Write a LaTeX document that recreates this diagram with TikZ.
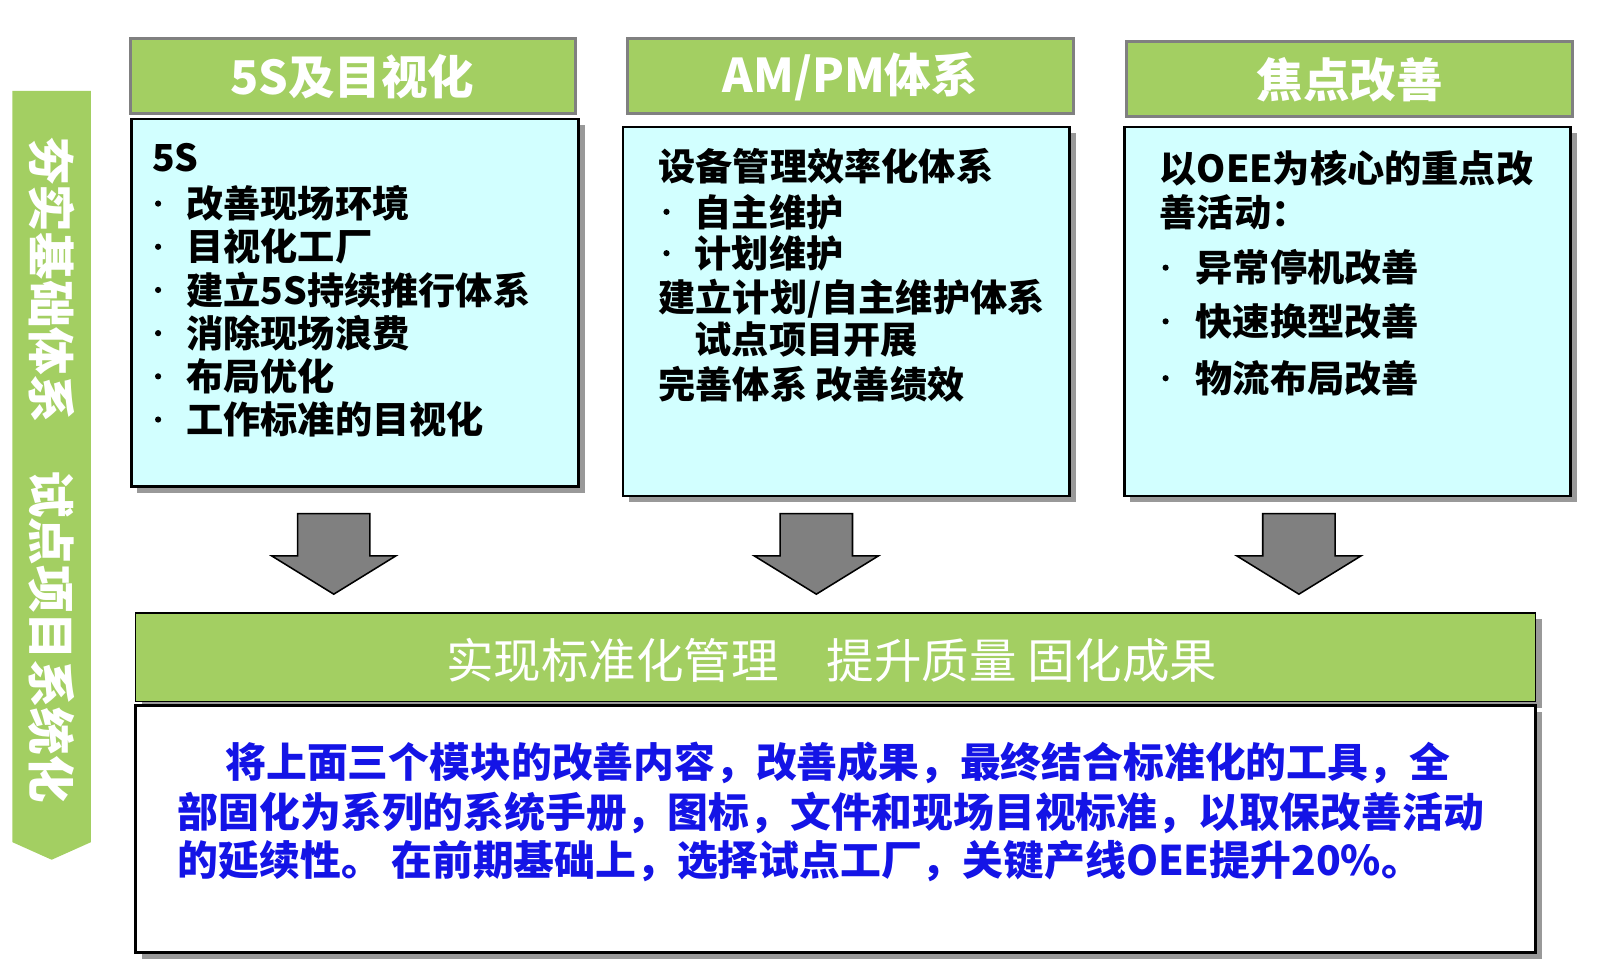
\documentclass[tikz,border=0pt]{standalone}
\usepackage{fontspec}
\setmainfont{Noto Sans CJK SC}
\usetikzlibrary{positioning,calc}
\definecolor{leaf}{HTML}{A3CF62}
\definecolor{ice}{HTML}{D2FFFF}
\definecolor{ink}{HTML}{1414E6}
\definecolor{shade}{HTML}{808080}
\tikzset{
  hdr/.style={fill=leaf,draw=shade,line width=3pt},
  body/.style={fill=ice,draw=black,line width=2.5pt},
  shadow/.style={fill=shade!80,draw=none},
  txt/.style={anchor=west,inner sep=0pt,font=\fontsize{36}{40}\selectfont\bfseries},
  dot/.style={circle,fill=black,inner sep=0pt,minimum size=6pt},
  hdrtxt/.style={text=white,inner sep=0pt,font=\fontsize{45}{48}\selectfont\bfseries},
  blue/.style={anchor=west,inner sep=0pt,text=ink,font=\fontsize{39.5}{44}\selectfont\bfseries},
  darrow/.style={fill=shade,draw=black,line width=1.5pt}
}
\begin{document}
\begin{tikzpicture}[x=1pt,y=-1pt]
\useasboundingbox (0,0) rectangle (1560,929);
% left strip
\fill[leaf] (12,88) -- (88,88) -- (88,815) -- (50,832) -- (12,815) -- cycle;
\node (strip) [rotate=-90,text=white,inner sep=0pt,font=\fontsize{46}{50}\selectfont\bfseries] at (50,455) {夯实基础体系\quad 试点项目系统化};
% three modules
\fill[shadow] (133,121) rectangle (566,477);
\draw[body] (127,115) rectangle (560,471);
\draw[hdr] (126,37) rectangle (557,110);
\node (h1) [hdrtxt] at (341,74) {5S及目视化};
\fill[shadow] (609,129) rectangle (1041,486);
\draw[body] (603,123) rectangle (1035,480);
\draw[hdr] (607,37) rectangle (1039,110);
\node (h2) [hdrtxt] at (823,74) {AM/PM体系};
\fill[shadow] (1094,129) rectangle (1526,486);
\draw[body] (1088,123) rectangle (1520,480);
\draw[hdr] (1090,40) rectangle (1522,113);
\node (h3) [hdrtxt] at (1306,77) {焦点改善};
% module 1 text
\node (a0) [txt] at (147,153) {5S};
\foreach \t [count=\i] in {改善现场环境,目视化工厂,建立5S持续推行体系,消除现场浪费,布局优化,工作标准的目视化}{
  \node (a\i) [txt] at (180,{197+41.8*(\i-1)}) {\t};
  \node [dot] at (153,{197+41.8*(\i-1)}) {};
}
% module 2 text
\node (b0) [txt] at (637,161) {设备管理效率化体系};
\node (b1) [txt] at (672,205) {自主维护};
\node [dot] at (645,205) {};
\node (b2) [txt] at (672,245) {计划维护};
\node [dot] at (645,245) {};
\node (b3) [txt] at (637,289) {建立计划/自主维护体系};
\node (b4) [txt] at (672,329) {试点项目开展};
\node (b5) [txt] at (637,372) {完善体系 改善绩效};
% module 3 text
\node (c0) [txt] at (1122,163) {以OEE为核心的重点改};
\node (c1) [txt] at (1122,205) {善活动：};
\foreach \t/\y in {异常停机改善/259,快速换型改善/311,物流布局改善/366}{
  \node [txt] at (1157,\y) {\t};
  \node [dot] at (1128,\y) {};
}
% down arrows
\foreach \x in {323,790,1257}{
  \draw[darrow] (\x-35,497) -- (\x+35,497) -- (\x+35,538) -- (\x+60,538) -- (\x,575)
    -- (\x-60,538) -- (\x-35,538) -- cycle;
}
% result bar
\fill[shadow] (137,599) rectangle (1492,685);
\draw[fill=leaf,draw=black,line width=1.5pt] (131,593) rectangle (1486,679);
\node (goal) [text=white,inner sep=0pt,font=\fontsize{46}{50}\selectfont] at (805,639) {实现标准化管理\quad 提升质量 固化成果};
\fill[shadow] (137,689) rectangle (1492,928);
\draw[fill=white,draw=black,line width=2.5pt] (131,683) rectangle (1486,922);
\node (d1) [blue] at (218,738) {将上面三个模块的改善内容，改善成果，最终结合标准化的工具，全};
\node (d2) [blue] at (172,787) {部固化为系列的系统手册，图标，文件和现场目视标准，以取保改善活动};
\node (d3) [blue] at (172,833) {的延续性。 在前期基础上，选择试点工厂，关键产线OEE提升20\%。};
\end{tikzpicture}
\end{document}
